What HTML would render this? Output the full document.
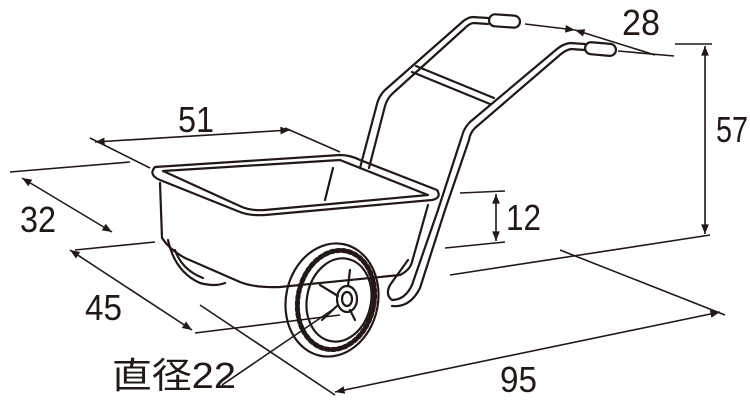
<!DOCTYPE html>
<html><head><style>body{margin:0;background:#fff}svg{display:block}
text{font-family:"Liberation Sans","Noto Sans CJK JP",sans-serif;font-size:36px;fill:#231815}</style></head>
<body>
<svg width="750" height="404" viewBox="0 0 750 404" xmlns="http://www.w3.org/2000/svg">
<defs><marker id="a" viewBox="0 0 10 10" refX="10" refY="5" markerWidth="8" markerHeight="6" orient="auto-start-reverse"><path d="M0,1 L10,5 L0,9z" fill="#231815"/></marker></defs>
<g stroke="#231815" fill="none" stroke-width="1.6">
<line x1="95" y1="142" x2="290" y2="130" marker-start="url(#a)" marker-end="url(#a)"/>
<line x1="90" y1="138" x2="150" y2="168"/><line x1="285" y1="128" x2="340" y2="152"/>
<line x1="10" y1="172" x2="130" y2="162"/><line x1="75" y1="250" x2="155" y2="242"/>
<line x1="22" y1="178" x2="112" y2="232" marker-start="url(#a)" marker-end="url(#a)"/>
<line x1="70" y1="250" x2="192" y2="330" marker-start="url(#a)" marker-end="url(#a)"/>
<line x1="195" y1="333" x2="340" y2="315"/>
<line x1="200" y1="305" x2="335" y2="395"/>
<line x1="335" y1="392" x2="720" y2="312" marker-start="url(#a)" marker-end="url(#a)"/>
<line x1="560" y1="250" x2="725" y2="315"/>
<line x1="450" y1="275" x2="710" y2="235"/>
<line x1="675" y1="44" x2="712" y2="44"/>
<line x1="705" y1="46" x2="705" y2="234" marker-start="url(#a)" marker-end="url(#a)"/>
<line x1="460" y1="193" x2="505" y2="191"/><line x1="445" y1="248" x2="505" y2="242"/>
<line x1="496" y1="194" x2="496" y2="241" marker-start="url(#a)" marker-end="url(#a)"/>
<line x1="525" y1="24" x2="575" y2="30" marker-end="url(#a)"/>
<line x1="575" y1="30" x2="655" y2="55" marker-start="url(#a)"/>
<line x1="618" y1="51" x2="674" y2="56"/>
<line x1="222" y1="385" x2="335" y2="308"/>
</g>
<g stroke="#231815" fill="none" stroke-width="2.2" stroke-linejoin="round" stroke-linecap="round">
<path d="M488,18 L472,17 Q466,18 460,24 L385,90 Q379,96 377,104 L360,168"/>
<path d="M488,24 L474,23 Q470,23 465,28 L392,94 Q387,99 385,106 L369,168"/>
<rect x="489" y="15" width="31" height="12" rx="6" transform="rotate(4 505 21)"/>
<rect x="585" y="43" width="31" height="12" rx="6" transform="rotate(5 600 49)"/>
<path d="M585,44 L570,43 Q563,44 557,49 L470,122 Q464,128 462,136 L438,210 L412,285 Q405,300 392,300 Q385,295 390,285 L408,260"/>
<path d="M585,50 L571,49 Q566,50 561,54 L475,128 Q470,133 469,140 L445,210 L420,288 Q410,308 392,306"/>
<path d="M416,66 L494,98 M412,72 L490,104"/>
<path d="M155,167 L340,155 Q350,155 360,160 L437,190 Q442,198 432,200 L265,215 Q250,216 240,212 L160,180 Q148,175 155,167z"/>
<path d="M163,171 L340,160 L428,195 L265,210 Q252,211 242,207z"/>
<line x1="333" y1="168" x2="325" y2="200"/>
<path d="M160,183 L162,238 Q170,250 185,258 L240,282 Q255,288 280,287 L400,275 Q410,270 412,262 L428,205"/>
<path d="M168,240 Q175,272 200,283 Q215,287 225,283"/>
<path d="M175,250 Q182,270 203,278"/>
<ellipse cx="332" cy="300" rx="46" ry="57" transform="rotate(12 332 300)"/>
<ellipse cx="336" cy="300" rx="38" ry="50" transform="rotate(12 336 300)" stroke-dasharray="3 3" stroke-width="5"/>
<ellipse cx="339" cy="300" rx="32" ry="42" transform="rotate(12 339 300)"/>
<ellipse cx="347" cy="299" rx="10" ry="13"/><ellipse cx="347" cy="299" rx="5" ry="7"/>
<path d="M320,285 L338,296 M322,320 L338,305 M350,270 L348,286 M355,320 L350,310"/>
</g>
<text x="178" y="132" textLength="36" lengthAdjust="spacingAndGlyphs">51</text>
<text x="20" y="232" textLength="36" lengthAdjust="spacingAndGlyphs">32</text>
<text x="85" y="320" textLength="37" lengthAdjust="spacingAndGlyphs">45</text>
<text x="500" y="392" textLength="37" lengthAdjust="spacingAndGlyphs">95</text>
<text x="506" y="230" textLength="35" lengthAdjust="spacingAndGlyphs">12</text>
<text x="716" y="142" textLength="32" lengthAdjust="spacingAndGlyphs">57</text>
<text x="622" y="35" textLength="38" lengthAdjust="spacingAndGlyphs">28</text>
<text x="112" y="388" textLength="124" lengthAdjust="spacingAndGlyphs">直径22</text>
</svg>
</body></html>
